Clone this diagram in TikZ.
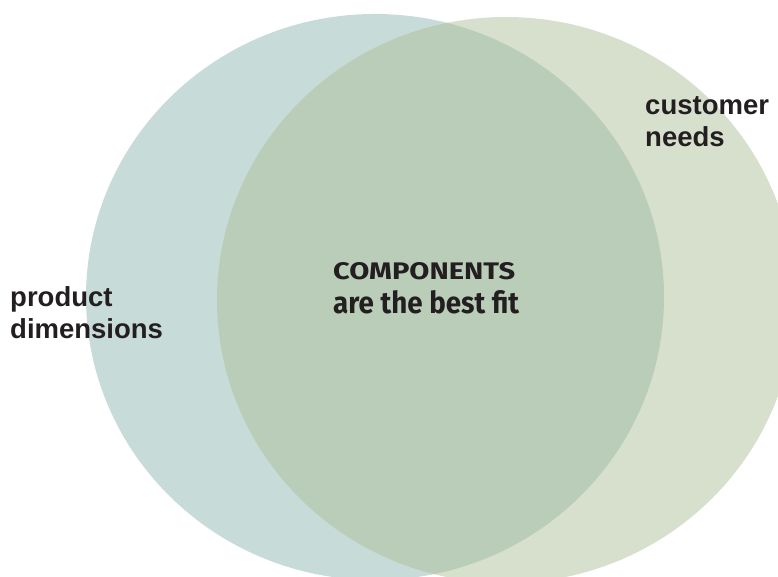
\documentclass[tikz,border=0pt]{standalone}
\usepackage{fontspec}
\setmainfont{Liberation Sans}
\newfontfamily\firabold{Fira Sans}[BoldFont={* Bold}]
\usepackage{graphicx}
\definecolor{leftfill}{HTML}{C7DBD8}
\definecolor{rightfill}{HTML}{D7E0CD}
\definecolor{bothfill}{HTML}{BACDB9}
\definecolor{ink}{HTML}{231F20}
\tikzset{
  lbl/.style={inner sep=0pt, text=ink, align=left, font=\fontsize{27.5}{32}\selectfont\bfseries},
  ctr/.style={inner sep=0pt, text=ink, font=\firabold\bfseries}
}
\begin{document}
\begin{tikzpicture}[x=1pt,y=1pt]
\useasboundingbox (0,0) rectangle (778,576);
\clip (0,0) rectangle (778,576);
% circles (pixel y flipped: y = 576 - py)
\fill[leftfill] (375,279) ellipse [x radius=289, y radius=283];
\fill[rightfill] (506,276) ellipse [x radius=289, y radius=283];
\begin{scope}
  \clip (375,279) ellipse [x radius=289, y radius=283];
  \fill[bothfill] (506,276) ellipse [x radius=289, y radius=283];
\end{scope}
% labels (base anchor = baseline of the last line)
\node[lbl, anchor=base west] (prod) at (10,238) {product\\dimensions};
\node[lbl, anchor=base west] (cust) at (645,429) {customer\\needs};
\node[ctr, anchor=base west] (comp) at (333,296.5) {\resizebox{182pt}{17pt}{COMPONENTS}};
\node[ctr, anchor=base west] (fit) at (333,262.5) {\resizebox{186pt}{23pt}{are the best fit}};
\end{tikzpicture}
\end{document}
